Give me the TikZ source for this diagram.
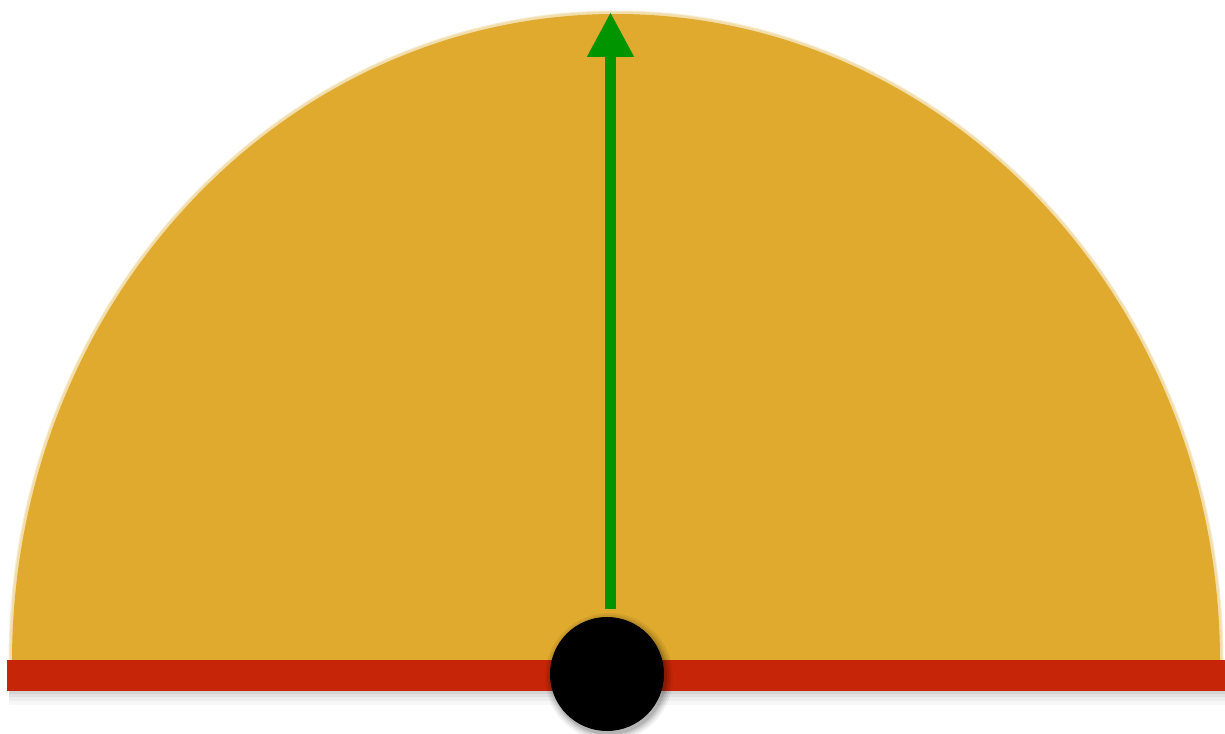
\documentclass[tikz,border=0pt]{standalone}
\usetikzlibrary{arrows.meta}
\definecolor{dome}{HTML}{DFAA2E}
\definecolor{barred}{HTML}{C72508}
\definecolor{arrowgreen}{HTML}{009400}
\begin{document}
\begin{tikzpicture}[x=1pt,y=-1pt,
  softedge/.style={draw=dome,line width=#1,opacity=0.22},
  shade/.style={fill=black,opacity=#1}]
\useasboundingbox (0,0) rectangle (1225,733);
% dome (half ellipse) with soft edge
\foreach \w in {5,3}{
  \draw[softedge=\w] (616-605,662) arc[start angle=180,end angle=360,x radius=605,y radius=649];
}
\fill[dome] (616-604,662) arc[start angle=180,end angle=360,x radius=604,y radius=648] -- cycle;
% shadow of bar
\foreach \d/\o in {14/0.03,10/0.04,6/0.05,3/0.06}{
  \fill[shade=\o] (9,660) rectangle (1225,691+\d);
}
% red bar
\fill[barred] (7,660) rectangle (1225,691);
% green arrow
\coordinate (arrowfoot) at (610.5,609);
\coordinate (arrowtip) at (610.5,12);
\draw[arrowgreen,line width=11pt,-{Triangle[width=44pt,length=45pt]}] (arrowfoot) -- (arrowtip);
% circle shadow
\foreach \r/\o in {64/0.05,62/0.07,60/0.09,58/0.12}{
  \fill[shade=\o] (609,677) circle[radius=\r];
}
% black ball
\node[circle,fill=black,minimum size=114pt,inner sep=0pt] (ball) at (607,674) {};
\end{tikzpicture}
\end{document}
